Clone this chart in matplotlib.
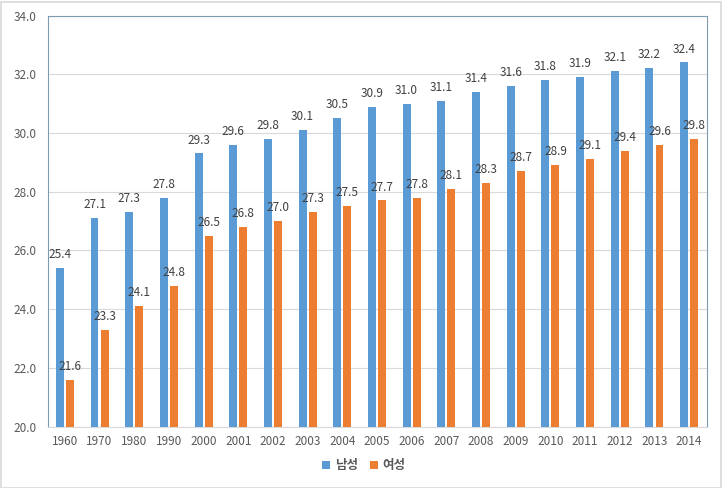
import matplotlib
matplotlib.use("Agg")
import matplotlib.pyplot as plt
import numpy as np
from matplotlib.patches import Rectangle

plt.rcParams['font.family'] = ['Noto Sans CJK KR', 'DejaVu Sans']

years = ['1960', '1970', '1980', '1990', '2000', '2001', '2002', '2003', '2004', '2005',
         '2006', '2007', '2008', '2009', '2010', '2011', '2012', '2013', '2014']
male = [25.4, 27.1, 27.3, 27.8, 29.3, 29.6, 29.8, 30.1, 30.5, 30.9,
        31.0, 31.1, 31.4, 31.6, 31.8, 31.9, 32.1, 32.2, 32.4]
female = [21.6, 23.3, 24.1, 24.8, 26.5, 26.8, 27.0, 27.3, 27.5, 27.7,
          27.8, 28.1, 28.3, 28.7, 28.9, 29.1, 29.4, 29.6, 29.8]
series_names = ['남성', '여성']
colors = ['#5B9BD5', '#ED7D31']

fig = plt.figure(figsize=(7.22, 4.88), dpi=100)
W, H = 722, 488
ax = fig.add_axes([47.5 / W, 1 - 426.5 / H, (706.5 - 47.5) / W, (426.5 - 15.5) / H])

x = np.arange(len(years))
bw = 0.23
off = 0.145
b1 = ax.bar(x - off, male, bw, color=colors[0], label=series_names[0], zorder=3)
b2 = ax.bar(x + off, female, bw, color=colors[1], label=series_names[1], zorder=3)

ax.set_ylim(20, 34)
ax.set_xlim(-0.5, len(years) - 0.5)
ax.set_yticks(np.arange(20, 34.1, 2))
ax.set_yticklabels([f'{v:.1f}' for v in np.arange(20, 34.1, 2)])
ax.set_xticks(x)
ax.set_xticklabels(years)
ax.tick_params(axis='both', length=0, labelsize=8.5, labelcolor='#595959')
ax.tick_params(axis='x', pad=6)
ax.tick_params(axis='y', pad=8)
ax.grid(axis='y', color='#D9D9D9', linewidth=0.8, zorder=0)
for s in ['left', 'top', 'right']:
    ax.spines[s].set_color('#7F9BAF')
    ax.spines[s].set_linewidth(0.8)
ax.spines['bottom'].set_color('#D9D9D9')
ax.spines['bottom'].set_linewidth(0.8)

for xi, v in zip(x, male):
    ax.annotate(f'{v:.1f}', (xi - off, v), xytext=(0, 5), textcoords='offset points',
                ha='center', va='bottom', fontsize=8.5, color='#404040')
for xi, v in zip(x, female):
    ax.annotate(f'{v:.1f}', (xi + off, v), xytext=(0, 5), textcoords='offset points',
                ha='center', va='bottom', fontsize=8.5, color='#404040')

leg = fig.legend(handles=[b1, b2], labels=series_names, loc='center', bbox_to_anchor=(364 / W, 1 - 466 / H),
                 ncol=2, frameon=False, fontsize=9, handlelength=0.6, handleheight=0.6,
                 handletextpad=0.4, columnspacing=1.0)
for t in leg.get_texts():
    t.set_color('#595959')
    t.set_fontweight('bold')

fig.patches.append(Rectangle((0.5 / W, 0.5 / H), 1 - 2 / W, 1 - 2 / H, transform=fig.transFigure,
                             fill=False, edgecolor='#D9D9D9', linewidth=1.2))

fig.savefig('out.png', dpi=100)
